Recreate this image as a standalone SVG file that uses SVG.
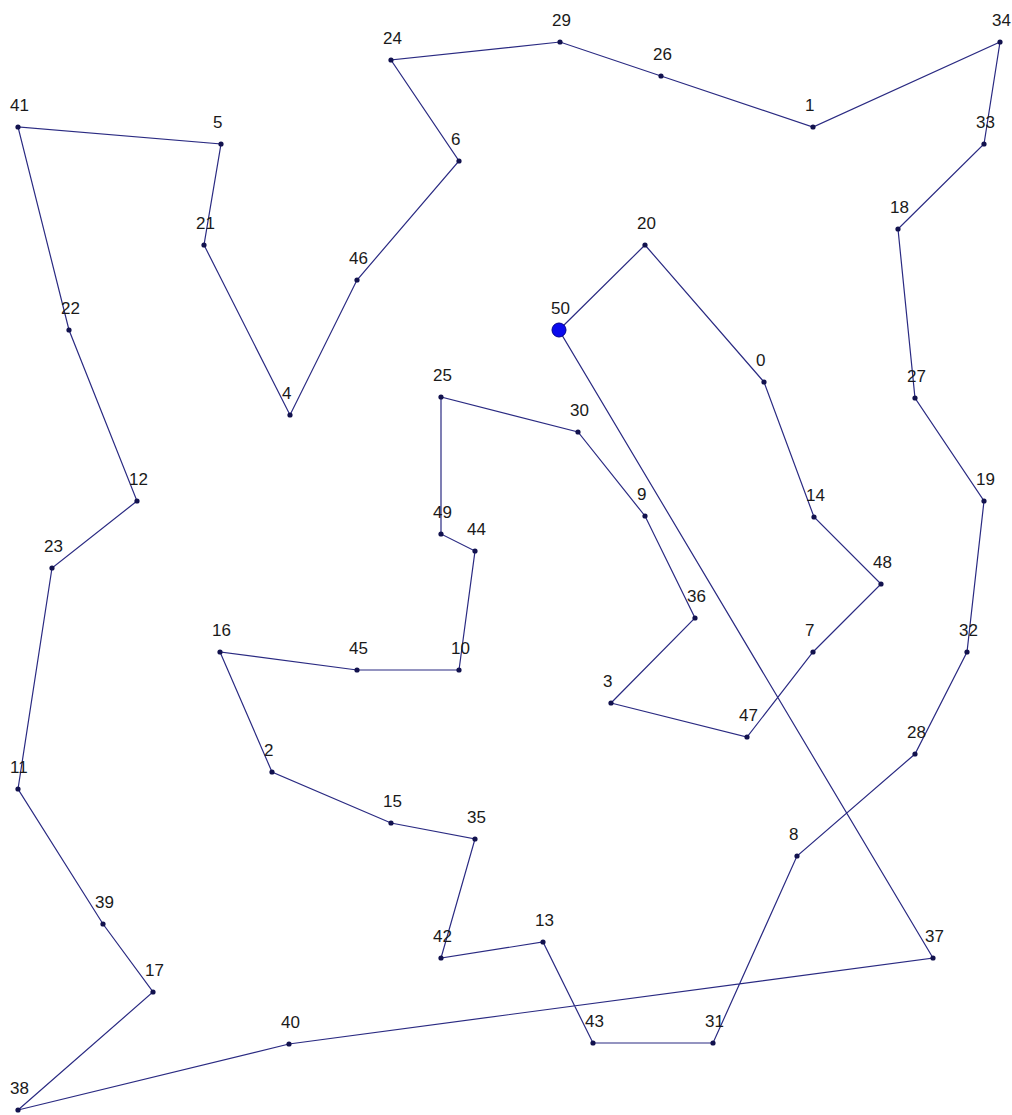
<svg xmlns="http://www.w3.org/2000/svg" width="1012" height="1115" viewBox="0 0 1012 1115">
<style>
.e{stroke:#2a2a82;stroke-width:1.2;fill:none}
.d{fill:#12124e}
.s{fill:#0a0aee;stroke:#000090;stroke-width:1}
text{font-family:"Liberation Sans",Arial,sans-serif;font-size:17px;fill:#1a1a1a}
</style>
<rect width="1012" height="1115" fill="#ffffff"/>
<g id="connectors">
<polygon class="e" points="559,330 645,245 764,382 814,517 881,584 813,652 747,737 611,703 695,618 645,516 578,432 441,397 441,534 475,551 459,670 357,670 220,652 272,772 391,823 475,839 441,958 543,942 593,1043 713,1043 797,856 915,754 967,652 984,501 915,398 898,229 984,144 1000,42 813,127 661,76 560,42 391,60 459,161 357,280 290,415 204,245 221,144 18,127 69,330 137,501 52,568 18,789 103,924 153,992 18,1110 289,1044 933,958"/>
</g>
<g id="n0"><circle class="d" cx="764" cy="382" r="2.6"/><text x="756" y="366">0</text></g>
<g id="n1"><circle class="d" cx="813" cy="127" r="2.6"/><text x="805" y="111">1</text></g>
<g id="n2"><circle class="d" cx="272" cy="772" r="2.6"/><text x="264" y="756">2</text></g>
<g id="n3"><circle class="d" cx="611" cy="703" r="2.6"/><text x="603" y="687">3</text></g>
<g id="n4"><circle class="d" cx="290" cy="415" r="2.6"/><text x="282" y="399">4</text></g>
<g id="n5"><circle class="d" cx="221" cy="144" r="2.6"/><text x="213" y="128">5</text></g>
<g id="n6"><circle class="d" cx="459" cy="161" r="2.6"/><text x="451" y="145">6</text></g>
<g id="n7"><circle class="d" cx="813" cy="652" r="2.6"/><text x="805" y="636">7</text></g>
<g id="n8"><circle class="d" cx="797" cy="856" r="2.6"/><text x="789" y="840">8</text></g>
<g id="n9"><circle class="d" cx="645" cy="516" r="2.6"/><text x="637" y="500">9</text></g>
<g id="n10"><circle class="d" cx="459" cy="670" r="2.6"/><text x="451" y="654">10</text></g>
<g id="n11"><circle class="d" cx="18" cy="789" r="2.6"/><text x="10" y="773">11</text></g>
<g id="n12"><circle class="d" cx="137" cy="501" r="2.6"/><text x="129" y="485">12</text></g>
<g id="n13"><circle class="d" cx="543" cy="942" r="2.6"/><text x="535" y="926">13</text></g>
<g id="n14"><circle class="d" cx="814" cy="517" r="2.6"/><text x="806" y="501">14</text></g>
<g id="n15"><circle class="d" cx="391" cy="823" r="2.6"/><text x="383" y="807">15</text></g>
<g id="n16"><circle class="d" cx="220" cy="652" r="2.6"/><text x="212" y="636">16</text></g>
<g id="n17"><circle class="d" cx="153" cy="992" r="2.6"/><text x="145" y="976">17</text></g>
<g id="n18"><circle class="d" cx="898" cy="229" r="2.6"/><text x="890" y="213">18</text></g>
<g id="n19"><circle class="d" cx="984" cy="501" r="2.6"/><text x="976" y="485">19</text></g>
<g id="n20"><circle class="d" cx="645" cy="245" r="2.6"/><text x="637" y="229">20</text></g>
<g id="n21"><circle class="d" cx="204" cy="245" r="2.6"/><text x="196" y="229">21</text></g>
<g id="n22"><circle class="d" cx="69" cy="330" r="2.6"/><text x="61" y="314">22</text></g>
<g id="n23"><circle class="d" cx="52" cy="568" r="2.6"/><text x="44" y="552">23</text></g>
<g id="n24"><circle class="d" cx="391" cy="60" r="2.6"/><text x="383" y="44">24</text></g>
<g id="n25"><circle class="d" cx="441" cy="397" r="2.6"/><text x="433" y="381">25</text></g>
<g id="n26"><circle class="d" cx="661" cy="76" r="2.6"/><text x="653" y="60">26</text></g>
<g id="n27"><circle class="d" cx="915" cy="398" r="2.6"/><text x="907" y="382">27</text></g>
<g id="n28"><circle class="d" cx="915" cy="754" r="2.6"/><text x="907" y="738">28</text></g>
<g id="n29"><circle class="d" cx="560" cy="42" r="2.6"/><text x="552" y="26">29</text></g>
<g id="n30"><circle class="d" cx="578" cy="432" r="2.6"/><text x="570" y="416">30</text></g>
<g id="n31"><circle class="d" cx="713" cy="1043" r="2.6"/><text x="705" y="1027">31</text></g>
<g id="n32"><circle class="d" cx="967" cy="652" r="2.6"/><text x="959" y="636">32</text></g>
<g id="n33"><circle class="d" cx="984" cy="144" r="2.6"/><text x="976" y="128">33</text></g>
<g id="n34"><circle class="d" cx="1000" cy="42" r="2.6"/><text x="992" y="26">34</text></g>
<g id="n35"><circle class="d" cx="475" cy="839" r="2.6"/><text x="467" y="823">35</text></g>
<g id="n36"><circle class="d" cx="695" cy="618" r="2.6"/><text x="687" y="602">36</text></g>
<g id="n37"><circle class="d" cx="933" cy="958" r="2.6"/><text x="925" y="942">37</text></g>
<g id="n38"><circle class="d" cx="18" cy="1110" r="2.6"/><text x="10" y="1094">38</text></g>
<g id="n39"><circle class="d" cx="103" cy="924" r="2.6"/><text x="95" y="908">39</text></g>
<g id="n40"><circle class="d" cx="289" cy="1044" r="2.6"/><text x="281" y="1028">40</text></g>
<g id="n41"><circle class="d" cx="18" cy="127" r="2.6"/><text x="10" y="111">41</text></g>
<g id="n42"><circle class="d" cx="441" cy="958" r="2.6"/><text x="433" y="942">42</text></g>
<g id="n43"><circle class="d" cx="593" cy="1043" r="2.6"/><text x="585" y="1027">43</text></g>
<g id="n44"><circle class="d" cx="475" cy="551" r="2.6"/><text x="467" y="535">44</text></g>
<g id="n45"><circle class="d" cx="357" cy="670" r="2.6"/><text x="349" y="654">45</text></g>
<g id="n46"><circle class="d" cx="357" cy="280" r="2.6"/><text x="349" y="264">46</text></g>
<g id="n47"><circle class="d" cx="747" cy="737" r="2.6"/><text x="739" y="721">47</text></g>
<g id="n48"><circle class="d" cx="881" cy="584" r="2.6"/><text x="873" y="568">48</text></g>
<g id="n49"><circle class="d" cx="441" cy="534" r="2.6"/><text x="433" y="518">49</text></g>
<g id="n50"><circle class="s" cx="559" cy="330" r="7"/><text x="551" y="314">50</text></g>
</svg>
